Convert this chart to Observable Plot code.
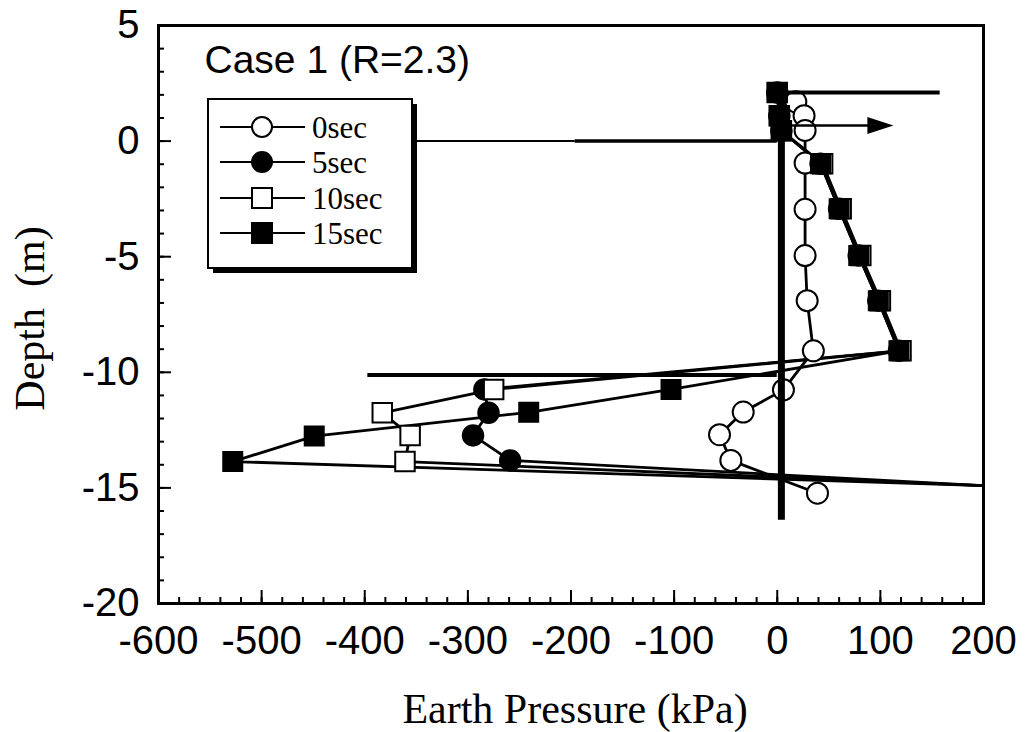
<!DOCTYPE html>
<html><head><meta charset="utf-8">
<script src="https://cdn.jsdelivr.net/npm/d3@7"></script>
<script src="https://cdn.jsdelivr.net/npm/@observablehq/plot@0.6"></script>
<style>
body{margin:0;background:#fff;}
#wrap{position:relative;width:1032px;height:732px;overflow:hidden;}
#legend{position:absolute;left:207px;top:98px;}
</style></head><body><div id="wrap"></div>
<script>
// ---- data ----
const seriesNames = ["0sec", "5sec", "10sec", "15sec"];
const depth0sec    = [1.7, 1.1, 0.46, -0.95, -2.95, -4.95, -6.9, -9.07, -10.76, -11.72, -12.7, -13.81, -15.23];
const pressure0sec = [18, 26, 27, 27, 27, 27, 29, 35, 6, -33, -56, -45, 39];
const depth5sec    = [2.1, 1.1, 0.45, -0.98, -2.93, -4.95, -6.9, -9.07, -10.74, -11.75, -12.73, -13.81, -15.23];
const pressure5sec = [0, 2, 4, 42, 60, 79, 98, 118, -284, -280, -295, -259, 339];
const depth10sec    = [2.1, 1.1, 0.45, -0.98, -2.93, -4.95, -6.9, -9.07, -10.74, -11.75, -12.73, -13.86, -15.23];
const pressure10sec = [0, 2, 4, 44, 62, 81, 100, 120, -275, -383, -356, -361, 377];
const depth15sec    = [2.1, 1.1, 0.45, -0.98, -2.93, -4.95, -6.9, -9.07, -10.74, -11.73, -12.76, -13.86, -15.23];
const pressure15sec = [0, 2, 4, 42, 60, 79, 98, 118, -103, -241, -449, -528, 430];

const xTicks = [-600, -500, -400, -300, -200, -100, 0, 100, 200];
const yTicks = [5, 0, -5, -10, -15, -20];
const xMinorTicks = d3.range(-600, 201, 20);
const yMinorTicks = d3.range(-20, 6, 1);

const titleText = "Case 1 (R=2.3)";
const xLabel = "Earth Pressure (kPa)";
const yLabel = "Depth\u00a0\u00a0(m)";

// annotation geometry (wall, ground lines, arrow)
const wallX = [4], wallTop = 2.1, wallBottom = -16.4;
const topLine = {y: 2.1, x1: 0, x2: 158};
const groundThin = {y: 0, x1: -360, x2: -196};
const groundThick = {y: 0, x1: -196, x2: 0};
const excavLine = {y: -10.12, x1: -397, x2: 0};
const arrowLine = {y: 0.67, x1: 10, x2: 92};
const arrowHead = {y: 0.67, x: 100};

// ---- table ----
const seriesData = [
  [depth0sec, pressure0sec], [depth5sec, pressure5sec],
  [depth10sec, pressure10sec], [depth15sec, pressure15sec]
];
const rows = seriesData.flatMap(([d, p], k) => d.map((v, i) => ({series: seriesNames[k], d: v, p: p[i]})));
const bySeries = name => rows.filter(r => r.series === name);

const sans = "'Liberation Sans', Arial, Helvetica, sans-serif";
const serif = "'Liberation Serif', 'Times New Roman', Times, serif";

const arrowSymbol = {
  draw(ctx, size) {
    const r = Math.sqrt(size / Math.PI);
    ctx.moveTo(r * 1.3, 0);
    ctx.lineTo(-r * 1.3, -r * 0.85);
    ctx.lineTo(-r * 1.3, r * 0.85);
    ctx.closePath();
  }
};

const chart = Plot.plot({
  width: 1032,
  height: 732,
  marginLeft: 158,
  marginRight: 49,
  marginTop: 25,
  marginBottom: 129,
  style: {background: "white", color: "black", overflow: "visible"},
  x: {domain: [-600, 200]},
  y: {domain: [-20, 5]},
  marks: [
    // series lines
    Plot.line(rows, {x: "p", y: "d", z: "series", stroke: "black", strokeWidth: 2.8, clip: true}),
    // markers
    Plot.dot(bySeries("0sec"), {x: "p", y: "d", r: 10.5, fill: "white", stroke: "black", strokeWidth: 2, clip: true}),
    Plot.dot(bySeries("5sec"), {x: "p", y: "d", r: 10.5, fill: "black", stroke: "black", strokeWidth: 1.5, clip: true}),
    Plot.dot(bySeries("10sec"), {x: "p", y: "d", r: 11, symbol: "square", fill: "white", stroke: "black", strokeWidth: 2, clip: true}),
    Plot.dot(bySeries("15sec"), {x: "p", y: "d", r: 11, symbol: "square", fill: "black", stroke: "black", strokeWidth: 1.5, clip: true}),
    // annotations
    Plot.ruleY([topLine], {y: "y", x1: "x1", x2: "x2", stroke: "black", strokeWidth: 4}),
    Plot.ruleY([groundThin], {y: "y", x1: "x1", x2: "x2", stroke: "black", strokeWidth: 2}),
    Plot.ruleY([groundThick], {y: "y", x1: "x1", x2: "x2", stroke: "black", strokeWidth: 3.5}),
    Plot.ruleY([excavLine], {y: "y", x1: "x1", x2: "x2", stroke: "black", strokeWidth: 4}),
    Plot.ruleY([arrowLine], {y: "y", x1: "x1", x2: "x2", stroke: "black", strokeWidth: 2.5}),
    Plot.dot([arrowHead], {x: "x", y: "y", r: 10, symbol: arrowSymbol, fill: "black", stroke: "none"}),
    Plot.ruleX(wallX, {x: d => d, y1: wallTop, y2: wallBottom, stroke: "black", strokeWidth: 7}),
    // frame & axes
    Plot.frame({stroke: "black", strokeWidth: 3}),
    Plot.axisX({ticks: xTicks, tickSize: 0, tickPadding: 22, fontSize: 40, fontFamily: sans, label: null, tickFormat: d => String(d)}),
    Plot.axisY({ticks: yTicks, tickSize: 0, tickPadding: 19, fontSize: 40, fontFamily: sans, label: null, tickFormat: d => String(d)}),
    Plot.axisX({ticks: xMinorTicks, tickSize: -6, strokeWidth: 2, label: null, tickFormat: () => ""}),
    Plot.axisX({ticks: xTicks, tickSize: -13, strokeWidth: 2, label: null, tickFormat: () => ""}),
    Plot.axisY({ticks: yMinorTicks, tickSize: -6, strokeWidth: 2, label: null, tickFormat: () => ""}),
    Plot.axisY({ticks: yTicks, tickSize: -13, strokeWidth: 2, label: null, tickFormat: () => ""}),
    // texts
    Plot.text([titleText], {frameAnchor: "top-left", dx: 46, dy: 47, lineAnchor: "bottom", textAnchor: "start", fontSize: 39, fontFamily: sans, fill: "black"}),
    Plot.text([xLabel], {frameAnchor: "bottom", dx: 4, dy: 119, lineAnchor: "bottom", textAnchor: "middle", fontSize: 42, fontFamily: serif, fill: "black"}),
    Plot.text([yLabel], {frameAnchor: "left", dx: -128, dy: 4, rotate: -90, lineAnchor: "middle", textAnchor: "middle", fontSize: 42, fontFamily: serif, fill: "black"})
  ]
});
document.getElementById("wrap").appendChild(chart);

// ---- legend (box with drop shadow) ----
const lg = d3.select("#wrap").append("svg").attr("id", "legend").attr("width", 215).attr("height", 180);
lg.append("rect").attr("x", 6).attr("y", 6).attr("width", 204).attr("height", 169).attr("fill", "black");
lg.append("rect").attr("x", 1).attr("y", 1).attr("width", 204).attr("height", 169).attr("fill", "white").attr("stroke", "black").attr("stroke-width", 2);
const rowY = [29, 64, 100, 135];
const styles = [
  {sym: "circle", fill: "white"}, {sym: "circle", fill: "black"},
  {sym: "square", fill: "white"}, {sym: "square", fill: "black"}
];
seriesNames.forEach((name, i) => {
  const g = lg.append("g").attr("transform", `translate(0,${rowY[i]})`);
  g.append("line").attr("x1", 13).attr("x2", 98).attr("y1", 0).attr("y2", 0).attr("stroke", "black").attr("stroke-width", 2);
  if (styles[i].sym === "circle") {
    g.append("circle").attr("cx", 55).attr("cy", 0).attr("r", 10).attr("fill", styles[i].fill).attr("stroke", "black").attr("stroke-width", 2);
  } else {
    g.append("rect").attr("x", 45).attr("y", -10).attr("width", 20).attr("height", 20).attr("fill", styles[i].fill).attr("stroke", "black").attr("stroke-width", 2);
  }
  g.append("text").attr("x", 105).attr("y", 11).attr("font-family", serif).attr("font-size", 31).attr("fill", "black").text(name);
});
</script>
</body></html>
